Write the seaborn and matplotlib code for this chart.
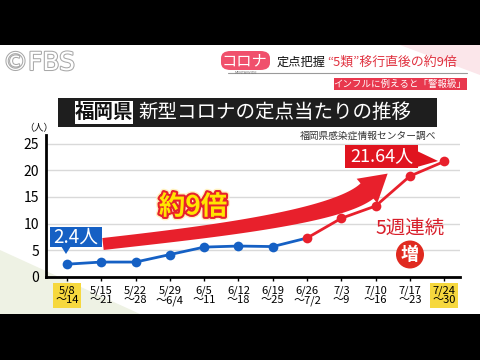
import numpy as np
import pandas as pd
import seaborn as sns
import matplotlib.pyplot as plt
from matplotlib.patches import Rectangle, Polygon, FancyBboxPatch, Ellipse
import matplotlib.patheffects as pe

# ---- data ----
week_start = ["5/8", "5/15", "5/22", "5/29", "6/5", "6/12", "6/19",
              "6/26", "7/3", "7/10", "7/17", "7/24"]
week_end = ["～14", "～21", "～28", "～6/4", "～11", "～18", "～25",
            "～7/2", "～9", "～16", "～23", "～30"]
values = [2.4, 2.8, 2.8, 4.2, 5.6, 5.8, 5.7, 7.3, 11.0, 13.3, 18.9, 21.64]
y_ticks = [0, 5, 10, 15, 20, 25]

BLUE = "#1560c4"
RED = "#e8202c"

sns.set_theme(style="white")
plt.rcParams['font.family'] = ['Noto Sans CJK JP', 'DejaVu Sans']

W, H = 480, 360
fig = plt.figure(figsize=(4.8, 3.6), dpi=100)
fig.patch.set_facecolor('white')


def P(x, y):
    return (x / W, 1 - y / H)


def frect(x0, y0, x1, y1, **kw):
    r = Rectangle(P(x0, y1), (x1 - x0) / W, (y1 - y0) / H,
                  transform=fig.transFigure, **kw)
    fig.add_artist(r)
    return r


def ftext(x, y, s, **kw):
    return fig.text(x / W, 1 - y / H, s, **kw)


# background decorations
fig.add_artist(Polygon([P(0, 250), P(140, 314), P(0, 314)], closed=True,
                       transform=fig.transFigure, fc="#eef2e4", ec="none", zorder=0))
fig.add_artist(Polygon([P(400, 45), P(480, 45), P(480, 75)], closed=True,
                       transform=fig.transFigure, fc="#fbe6ea", ec="none", zorder=0))
frect(0, 0, 480, 45, fc="black", ec="none", zorder=5)
frect(0, 314, 480, 360, fc="black", ec="none", zorder=5)

# ---- axes ----
ax = fig.add_axes([46 / W, 1 - 277 / H, (460 - 46) / W, (277 - 135) / H])
ax.set_facecolor("none")
df = pd.DataFrame({"idx": np.arange(len(values)), "value": values})

sns.lineplot(data=df.iloc[:8], x="idx", y="value", color=BLUE, lw=2.0, ax=ax, zorder=3)
sns.lineplot(data=df.iloc[:7], x="idx", y="value", color=BLUE, lw=0, marker="o",
             markersize=7, markeredgewidth=0, ax=ax, zorder=4)
sns.lineplot(data=df.iloc[7:], x="idx", y="value", color=RED, lw=2.0, marker="o",
             markersize=7, markeredgewidth=0, ax=ax, zorder=4)

ax.set_xlim(-0.61, 11.46)
ax.set_ylim(0, 26.6)
ax.set_yticks(y_ticks)
ax.set_yticklabels([str(v) for v in y_ticks], fontsize=10, color="black")
ax.set_xticks(df["idx"])
ax.set_xticklabels([f"{a}\n{b}" for a, b in zip(week_start, week_end)],
                   fontsize=8, color="black", linespacing=0.95)
ax.set_xlabel("")
ax.set_ylabel("")
ax.grid(axis="y", color="#d9d9d9", lw=1)
ax.grid(axis="x", visible=False)
for s in ["top", "right"]:
    ax.spines[s].set_visible(False)
for s in ["left", "bottom"]:
    ax.spines[s].set_color("black")
    ax.spines[s].set_linewidth(2)
ax.tick_params(axis="y", length=0, pad=5)
ax.tick_params(axis="x", length=3, width=1, color="black", pad=3, direction="out", bottom=True)
labels = ax.get_xticklabels()
for lab in (labels[0], labels[-1]):
    lab.set_bbox(dict(boxstyle="square,pad=0.2", fc="#f6d83e", ec="none"))

# ---- header ----
ftext(3, 63, "©FBS", fontsize=18, color="white", va="center", ha="left",
      family="DejaVu Sans",
      path_effects=[pe.withStroke(linewidth=1.5, foreground="#a8a8a8")])
fig.add_artist(FancyBboxPatch(P(221, 70), 49 / W, 19 / H,
                              boxstyle="round,pad=0,rounding_size=0.02",
                              transform=fig.transFigure, fc="#f0506c", ec="none"))
ftext(244, 60.5, "コロナ", fontsize=11, color="white", ha="center", va="center")
fig.add_artist(plt.Line2D([228 / W, 467 / W], [1 - 72.5 / H, 1 - 72.5 / H],
                          transform=fig.transFigure, color="#9a9a9a", lw=0.8))
ftext(246, 73, "MENTAIWIDE", fontsize=2.5, color="#777777", ha="center", va="center",
      family="DejaVu Sans")
ftext(277, 62, "定点把握", fontsize=8.8, color="#111111", ha="left", va="center")
ftext(327, 62, "“5類”移行直後の約9倍", fontsize=9.3, color="#e0303e", ha="left", va="center")
frect(334, 78, 467, 90, fc="#e8384e", ec="none")
ftext(400, 84, "インフルに例えると「警報級」", fontsize=6.8, color="white", ha="center", va="center")

# ---- title ----
frect(58, 98, 437, 127, fc="#1e1e1e", ec="none")
frect(75, 101, 133, 124, fc="white", ec="none")
ftext(104, 112.5, "福岡県", fontsize=14, color="#111111", ha="center", va="center",
      fontweight="bold")
ftext(138, 112.5, "新型コロナの定点当たりの推移", fontsize=14, color="white",
      ha="left", va="center")
ftext(24, 128, "（人）", fontsize=7, color="#111111", ha="left", va="center")
ftext(436, 136, "福岡県感染症情報センター調べ", fontsize=7, color="#333333",
      ha="right", va="center")

# ---- big curved arrow ----
P0 = np.array([103.0, 244.0])
P1 = np.array([200.0, 233.0])
P2 = np.array([335.0, 218.0])
P3 = np.array([367.0, 191.0])
t = np.linspace(0, 1, 80)[:, None]
B = (1 - t) ** 3 * P0 + 3 * (1 - t) ** 2 * t * P1 + 3 * (1 - t) * t ** 2 * P2 + t ** 3 * P3
D = 3 * (1 - t) ** 2 * (P1 - P0) + 6 * (1 - t) * t * (P2 - P1) + 3 * t ** 2 * (P3 - P2)
D = D / np.linalg.norm(D, axis=1)[:, None]
N = np.column_stack([D[:, 1], -D[:, 0]])
wdt = (12 + 8 * t[:, 0] ** 2)[:, None] / 2
upper = B + N * wdt
lower = B - N * wdt
u_end = D[-1]
n_end = N[-1]
tip = P3 + u_end * 27
h1 = P3 + n_end * 16
h2 = P3 - n_end * 16
pts = list(upper) + [h1, tip, h2] + list(lower[::-1])
fig.add_artist(Polygon([P(x, y) for x, y in pts], closed=True, transform=fig.transFigure,
                       fc=RED, ec="none", zorder=2))

ftext(193, 207, "約9倍", fontsize=19, color="#ffe500", ha="center", va="center",
      fontweight="bold",
      path_effects=[pe.withStroke(linewidth=5, foreground="#fff2c0"),
                    pe.withStroke(linewidth=3, foreground="#e8202c")])

# ---- callouts ----
frect(50, 227, 102, 247, fc=BLUE, ec="none", zorder=6)
fig.add_artist(Polygon([P(61, 246), P(71, 246), P(66, 254)], closed=True,
                       transform=fig.transFigure, fc=BLUE, ec="none", zorder=6))
ftext(76, 237.5, "2.4人", fontsize=13.5, color="white", ha="center", va="center", zorder=7)

frect(345, 145, 418, 168, fc="#e0141f", ec="none", zorder=6)
fig.add_artist(Polygon([P(417, 151), P(417, 167), P(438, 161)], closed=True,
                       transform=fig.transFigure, fc="#e0141f", ec="none", zorder=6))
ftext(381.5, 156.5, "21.64人", fontsize=13, color="white", ha="center", va="center", zorder=7)

ftext(410, 228.5, "5週連続", fontsize=14, color="#d81e2a", ha="center", va="center")
fig.add_artist(Ellipse(P(410, 254.5), 28 / W, 28 / H, transform=fig.transFigure,
                       fc="#e02a20", ec="none"))
ftext(410, 254.5, "増", fontsize=13, color="white", ha="center", va="center",
      fontweight="bold")

fig.savefig("out.png", dpi=100)
